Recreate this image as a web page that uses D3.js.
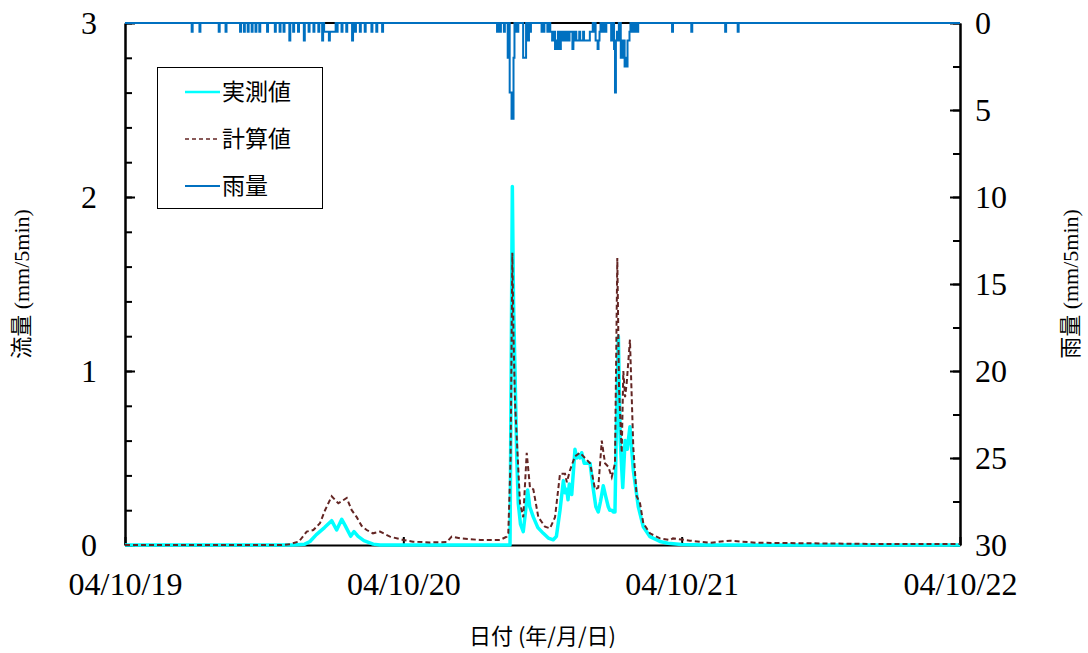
<!DOCTYPE html>
<html>
<head>
<meta charset="utf-8">
<script src="https://cdn.jsdelivr.net/npm/d3@7"></script>
<style>
  body { margin: 0; background: #fff; }
  svg { display: block; }
</style>
</head>
<body>
<div id="chart"></div>
<script>
// hours counted from 04/10/19 00:00
const observed = [
  [0, 0], [14.5, 0], [15.5, 0.005], [15.95, 0.02], [16.5, 0.06], [17.2, 0.1], [17.82, 0.14],
  [18.25, 0.086], [18.69, 0.148], [19.0, 0.11], [19.46, 0.05], [19.75, 0.077], [20.1, 0.05],
  [20.6, 0.025], [21.4, 0.005], [22, 0], [33.2, 0], [33.4, 2.06], [33.5, 1.4], [33.63, 1.0],
  [33.78, 0.5], [33.91, 0.24], [34.1, 0.12], [34.34, 0.077], [34.55, 0.2], [34.72, 0.316],
  [34.9, 0.22], [35.21, 0.16], [35.6, 0.1], [36.07, 0.067], [36.5, 0.04], [36.93, 0.03],
  [37.2, 0.05], [37.51, 0.2], [37.8, 0.37], [37.95, 0.3], [38.09, 0.32], [38.2, 0.26],
  [38.31, 0.35], [38.52, 0.29], [38.8, 0.55], [38.95, 0.5], [39.09, 0.52], [39.23, 0.5],
  [39.38, 0.53], [39.6, 0.47], [39.81, 0.47], [40.1, 0.47], [40.38, 0.32], [40.6, 0.22],
  [40.81, 0.19], [41.0, 0.25], [41.24, 0.34], [41.45, 0.28], [41.67, 0.22], [41.8, 0.2],
  [41.97, 0.2], [42.1, 0.19], [42.25, 0.19], [42.35, 0.6], [42.54, 1.2], [42.7, 0.6],
  [42.92, 0.33], [43.12, 0.6], [43.31, 0.55], [43.54, 0.68], [43.83, 0.43], [44.26, 0.22],
  [44.69, 0.105], [45.27, 0.048], [46.13, 0.02], [46.82, 0.01], [48, 0.003], [50, 0], [72, 0]
];

const computed = [
  [0, 0], [13.5, 0], [14.23, 0.005], [15.0, 0.02], [15.67, 0.077], [16.24, 0.086], [16.81, 0.125],
  [17.25, 0.2], [17.82, 0.28], [18.39, 0.24], [19.12, 0.27], [19.55, 0.2], [19.98, 0.16],
  [20.4, 0.11], [20.84, 0.086], [21.38, 0.067], [21.99, 0.077], [22.85, 0.048], [24.0, 0.029],
  [24.83, 0.019], [26.3, 0.015], [27.74, 0.017], [28.17, 0.048], [28.89, 0.038], [30.61, 0.029],
  [32.34, 0.029], [32.91, 0.048], [33.05, 0.067], [33.25, 0.5], [33.4, 1.68], [33.5, 1.2],
  [33.63, 0.82], [34.06, 0.24], [34.34, 0.16], [34.64, 0.53], [34.92, 0.33], [35.21, 0.32],
  [35.64, 0.16], [36.22, 0.105], [36.65, 0.096], [37.08, 0.16], [37.51, 0.41], [37.94, 0.41],
  [38.1, 0.36], [38.37, 0.43], [38.8, 0.51], [39.23, 0.53], [39.81, 0.49], [40.1, 0.47],
  [40.53, 0.32], [40.81, 0.33], [41.11, 0.6], [41.39, 0.47], [41.67, 0.45], [41.97, 0.39],
  [42.25, 0.47], [42.45, 1.65], [42.6, 0.9], [42.83, 0.53], [42.97, 1.0], [43.12, 0.85],
  [43.26, 0.93], [43.54, 1.18], [43.83, 0.56], [44.12, 0.28], [44.41, 0.24], [44.69, 0.125],
  [45.27, 0.067], [46.13, 0.038], [46.99, 0.029], [47.25, 0.038], [48.72, 0.025], [50.44, 0.013],
  [52.17, 0.025], [54.47, 0.013], [58.78, 0.01], [64.5, 0.006], [72, 0.006]
];

// 5-minute rainfall records [hour, mm]
const rainfall = [
  [5.75, 0.5], [6.42, 0.5], [8.08, 0.5], [8.67, 0.5], [9.92, 0.5], [10.25, 0.5], [10.58, 0.5],
  [10.92, 0.5], [11.25, 0.5], [11.58, 0.5], [12.25, 0.5], [12.92, 0.5], [13.33, 0.5], [13.67, 0.5],
  [14.17, 1.0], [14.5, 0.5], [14.92, 0.5], [15.42, 1.0], [15.83, 0.5], [16.25, 0.5], [16.67, 0.5],
  [17.0, 1.0], [17.17, 0.5], [17.25, 0.5], [17.33, 0.5], [17.42, 0.5], [17.5, 0.5], [17.58, 1.0],
  [17.67, 0.5], [17.75, 0.5], [17.83, 0.5], [17.92, 0.5], [18.0, 0.5], [18.08, 0.5], [18.25, 0.5],
  [18.67, 0.5], [19.08, 0.5], [19.58, 1.0], [19.83, 0.5], [20.25, 0.5], [20.67, 0.5], [21.25, 0.5],
  [21.67, 0.5], [22.17, 0.5],
  [32.08, 0.5], [32.33, 0.5], [32.67, 0.5], [33.0, 2.0], [33.17, 4.0], [33.25, 4.0], [33.33, 5.5],
  [33.42, 5.5], [33.5, 2.0], [33.67, 0.5], [33.83, 0.5], [34.33, 2.0], [34.42, 2.0], [34.5, 2.0],
  [34.75, 1.0], [34.92, 0.5], [35.92, 0.5], [36.08, 0.5], [36.42, 0.5], [36.67, 0.5],
  [36.75, 0.5], [36.83, 1.0], [36.92, 0.5], [37.0, 0.5], [37.08, 1.5], [37.17, 1.0], [37.25, 1.5],
  [37.33, 0.5], [37.42, 0.5], [37.5, 1.5], [37.58, 1.0], [37.67, 0.5], [37.75, 1.0], [37.83, 1.0],
  [37.92, 0.5], [38.0, 1.0], [38.08, 1.0], [38.17, 0.5], [38.25, 1.0], [38.33, 0.5], [38.42, 0.5],
  [38.5, 0.5], [38.58, 1.5], [38.67, 1.0], [38.75, 0.5], [38.83, 0.5], [38.92, 1.0], [39.0, 1.0],
  [39.08, 1.0], [39.17, 0.5], [39.25, 1.0], [39.33, 1.0], [39.42, 1.0], [39.5, 0.5], [39.58, 1.0],
  [39.67, 1.0], [39.75, 1.0], [39.83, 1.0], [39.92, 1.0], [40.0, 1.0], [40.08, 0.5], [40.17, 0.5],
  [40.25, 0.5], [40.42, 0.5], [40.58, 1.0], [40.67, 1.0], [40.75, 1.5], [40.83, 1.0], [40.92, 0.5],
  [41.17, 0.5], [41.42, 0.5], [41.92, 1.0], [42.0, 0.5], [42.17, 1.5], [42.25, 4.0], [42.33, 1.0],
  [42.42, 0.5], [42.5, 1.0], [42.75, 2.0], [42.83, 1.0], [42.92, 2.0], [43.0, 1.0], [43.08, 2.5],
  [43.17, 2.0], [43.25, 2.5], [43.33, 1.0], [43.42, 1.0], [43.5, 0.5], [43.67, 0.5], [43.92, 0.5],
  [44.17, 0.5], [47.17, 0.5], [48.83, 0.5], [51.75, 0.5], [52.83, 0.5]
];

const dayTicks = [0, 1, 2, 3];
const flowMajor = [0, 1, 2, 3];
const flowMinor = d3.range(0, 16).map(i => i * 0.2);
const rainMajor = [0, 5, 10, 15, 20, 25, 30];
const rainMinor = d3.range(0, 13).map(i => i * 2.5);
const legendItems = ['実測値', '計算値', '雨量'];

const width = 1088;
const height = 653;
const plotL = 125, plotR = 960, plotT = 23, plotB = 545;
const start = new Date(2004, 9, 19);
const toDate = h => new Date(start.getTime() + h * 3600e3);

const colors = { obs: '#00ffff', calc: '#632523', rain: '#0070c0' };
const serif = '"Liberation Serif", "Times New Roman", serif';
const cjk = '"Noto Sans CJK JP", sans-serif';

const svg = d3.select('#chart')
  .append('svg')
  .attr('width', width)
  .attr('height', height);

const x = d3.scaleTime()
  .domain([toDate(0), toDate(72)])
  .range([plotL, plotR]);

const yFlow = d3.scaleLinear().domain([0, 3]).range([plotB, plotT]);
const yRain = d3.scaleLinear().domain([0, 30]).range([plotT, plotB]);

// frame top
svg.append('line')
  .attr('x1', plotL).attr('x2', plotR)
  .attr('y1', plotT).attr('y2', plotT)
  .attr('stroke', '#000').attr('stroke-width', 2);

function styleAxis (g) {
  g.select('.domain').attr('stroke', '#000').attr('stroke-width', 2);
  g.selectAll('.tick line').attr('stroke', '#000').attr('stroke-width', 2);
  g.selectAll('text')
    .attr('font-family', serif)
    .attr('font-size', 32)
    .attr('fill', '#000');
}

// left axis
svg.append('g')
  .attr('transform', `translate(${plotL},0)`)
  .call(d3.axisLeft(yFlow).tickValues(flowMinor).tickSizeInner(-7).tickSizeOuter(0).tickFormat(''))
  .call(styleAxis);

svg.append('g')
  .attr('transform', `translate(${plotL},0)`)
  .call(d3.axisLeft(yFlow).tickValues(flowMajor).tickSizeInner(-10).tickSizeOuter(0)
    .tickPadding(28).tickFormat(d3.format('d')))
  .call(styleAxis);

// right axis
svg.append('g')
  .attr('transform', `translate(${plotR},0)`)
  .call(d3.axisRight(yRain).tickValues(rainMinor).tickSizeInner(-7).tickSizeOuter(0).tickFormat(''))
  .call(styleAxis);

svg.append('g')
  .attr('transform', `translate(${plotR},0)`)
  .call(d3.axisRight(yRain).tickValues(rainMajor).tickSizeInner(-10).tickSizeOuter(0)
    .tickPadding(15).tickFormat(d3.format('d')))
  .call(styleAxis);

// bottom axis
svg.append('g')
  .attr('transform', `translate(0,${plotB})`)
  .call(d3.axisBottom(x).tickValues(dayTicks.map(d => toDate(d * 24)))
    .tickSizeInner(-8).tickSizeOuter(0).tickPadding(27)
    .tickFormat(d3.timeFormat('%y/%m/%d')))
  .call(styleAxis);

// flow lines
const flowLine = d3.line()
  .x(d => x(toDate(d[0])))
  .y(d => yFlow(d[1]));

svg.append('path')
  .datum(observed)
  .attr('d', flowLine)
  .attr('fill', 'none')
  .attr('stroke', colors.obs)
  .attr('stroke-width', 3.5)
  .attr('stroke-linejoin', 'round');

svg.append('path')
  .datum(computed)
  .attr('d', flowLine)
  .attr('fill', 'none')
  .attr('stroke', colors.calc)
  .attr('stroke-width', 2)
  .attr('stroke-dasharray', '5,3');

// rain as a step line hanging from the top
const step = 1 / 12;
function rainPoints (data) {
  const pts = [[0, 0]];
  let end = null;
  data.forEach(([h, mm]) => {
    if (end === null || Math.abs(h - end) > 0.03) {
      if (end !== null) pts.push([end, 0]);
      pts.push([h, 0]);
    }
    pts.push([h, mm], [h + step, mm]);
    end = h + step;
  });
  pts.push([end, 0], [72, 0]);
  return pts;
}

svg.append('path')
  .datum(rainPoints(rainfall))
  .attr('d', d3.line().x(d => x(toDate(d[0]))).y(d => yRain(d[1])))
  .attr('fill', 'none')
  .attr('stroke', colors.rain)
  .attr('stroke-width', 2);

// axis titles
const titleFont = `"Liberation Serif", ${cjk}`;

svg.append('text')
  .attr('transform', `translate(29,${(plotT + plotB) / 2}) rotate(-90)`)
  .attr('text-anchor', 'middle')
  .attr('font-family', titleFont)
  .attr('font-size', 22)
  .text('流量 (mm/5min)');

svg.append('text')
  .attr('transform', `translate(1078,${(plotT + plotB) / 2}) rotate(-90)`)
  .attr('text-anchor', 'middle')
  .attr('font-family', titleFont)
  .attr('font-size', 22)
  .text('雨量 (mm/5min)');

svg.append('text')
  .attr('x', (plotL + plotR) / 2)
  .attr('y', 644)
  .attr('text-anchor', 'middle')
  .attr('font-family', cjk)
  .attr('font-size', 22)
  .text('日付 (年/月/日)');

// legend
const legend = svg.append('g');
legend.append('rect')
  .attr('x', 157.5).attr('y', 67.5)
  .attr('width', 165).attr('height', 141)
  .attr('fill', '#fff').attr('stroke', '#000').attr('stroke-width', 1);

const legendStyle = [
  { color: colors.obs, width: 2.5, dash: null },
  { color: colors.calc, width: 1.5, dash: '4,3' },
  { color: colors.rain, width: 2, dash: null }
];

legendItems.forEach((label, i) => {
  const cy = 92 + i * 47;
  legend.append('line')
    .attr('x1', 185).attr('x2', 220)
    .attr('y1', cy).attr('y2', cy)
    .attr('stroke', legendStyle[i].color)
    .attr('stroke-width', legendStyle[i].width)
    .attr('stroke-dasharray', legendStyle[i].dash);
  legend.append('text')
    .attr('x', 222).attr('y', cy)
    .attr('dy', '0.36em')
    .attr('font-family', cjk)
    .attr('font-size', 23)
    .text(label);
});
</script>
</body>
</html>
